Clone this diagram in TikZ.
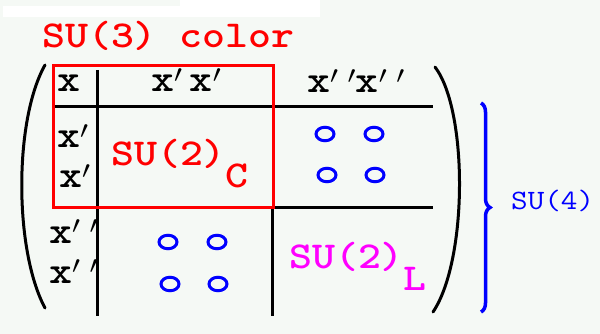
\documentclass[tikz,border=0pt]{standalone}
\usepackage{fontspec}
\usepackage{tikz}
\usetikzlibrary{shapes.geometric, decorations.pathreplacing}
\definecolor{bgfill}{HTML}{F5F9F5}
\definecolor{colred}{HTML}{FF0000}
\definecolor{ringblue}{HTML}{0000FF}
\definecolor{leftmag}{HTML}{FF00FF}
\newcommand{\wide}[1]{\scalebox{1.15}[1]{#1}}
\newcommand{\dprime}{$^{\prime\mkern6mu\prime}$}
\tikzset{
  idx/.style     = {font=\fontsize{38}{40}\selectfont\ttfamily\bfseries, inner sep=0pt, anchor=base west},
  grplbl/.style  = {font=\fontsize{38}{40}\selectfont\ttfamily\bfseries, inner sep=0pt, anchor=base west},
  gridline/.style= {line width=3pt, draw=black},
  colbox/.style  = {line width=3pt, draw=colred},
  parenline/.style={line width=3pt, draw=black, line cap=round},
  ring/.style    = {ellipse, draw=ringblue, line width=3pt, minimum width=18pt, minimum height=13.5pt, inner sep=0pt},
  bracket/.style = {decorate, decoration={brace, amplitude=9pt}, line width=3.5pt, draw=ringblue},
}

\begin{document}
\begin{tikzpicture}[x=1pt, y=-1pt]
  \fill[bgfill] (0,0) rectangle (600,334);
  \useasboundingbox (0,0) rectangle (600,334);
  \fill[white] (3,6) rectangle (180,17);
  \fill[white] (180,0) rectangle (320,17);
  % group label on top
  \node[grplbl, text=colred] (su3) at (42,48) {\wide{SU(3) color}};
  % grid of the matrix
  \draw[gridline] (97,70) -- (97,316);
  \draw[gridline] (272,206) -- (272,316);
  \draw[gridline] (53,107) -- (433,107);
  \draw[gridline] (272,207) -- (433,207);
  \draw[colbox] (53,66) rectangle (273,207);
  % column and row indices
  \node[idx] (c0) at (57,92) {\wide{x}};
  \node[idx] (c1) at (151,92) {\wide{x$'$\,x$'$}};
  \node[idx] (c2) at (307,93) {\wide{x\dprime x\dprime}};
  \node[idx] (r1) at (57,148) {\wide{x$'$}};
  \node[idx] (r2) at (59,188) {\wide{x$'$}};
  \node[idx] (r3) at (49,243) {\wide{x\dprime}};
  \node[idx] (r4) at (49,283) {\wide{x\dprime}};
  % blocks
  \node[grplbl, text=colred] (su2c) at (111,165) {\wide{SU(2)\raisebox{-23pt}{C}}};
  \node[grplbl, text=leftmag] (su2l) at (289,268) {\wide{SU(2)\raisebox{-22pt}{L}}};
  \foreach \n/\x/\y in {a/325/134, b/374/134, c/327/175, d/375/175, e/168/242, f/217/242, g/170/284, h/218/284}{\node[ring] (o\n) at (\x,\y) {};}
  % matrix brackets
  \draw[parenline] (45,65) .. controls (14,120) and (14,250) .. (45,308);
  \draw[parenline] (435,67) .. controls (468,110) and (468,260) .. (433,312);
  % su(4) brace
  \coordinate (btop) at (481,103);
  \coordinate (bbot) at (481,312);
  \draw[bracket] (btop) -- (bbot);
  \node[grplbl, font=\fontsize{28}{30}\selectfont\ttfamily, text=ringblue] (su4) at (511,210) {\wide{SU(4)}};
\end{tikzpicture}
\end{document}
